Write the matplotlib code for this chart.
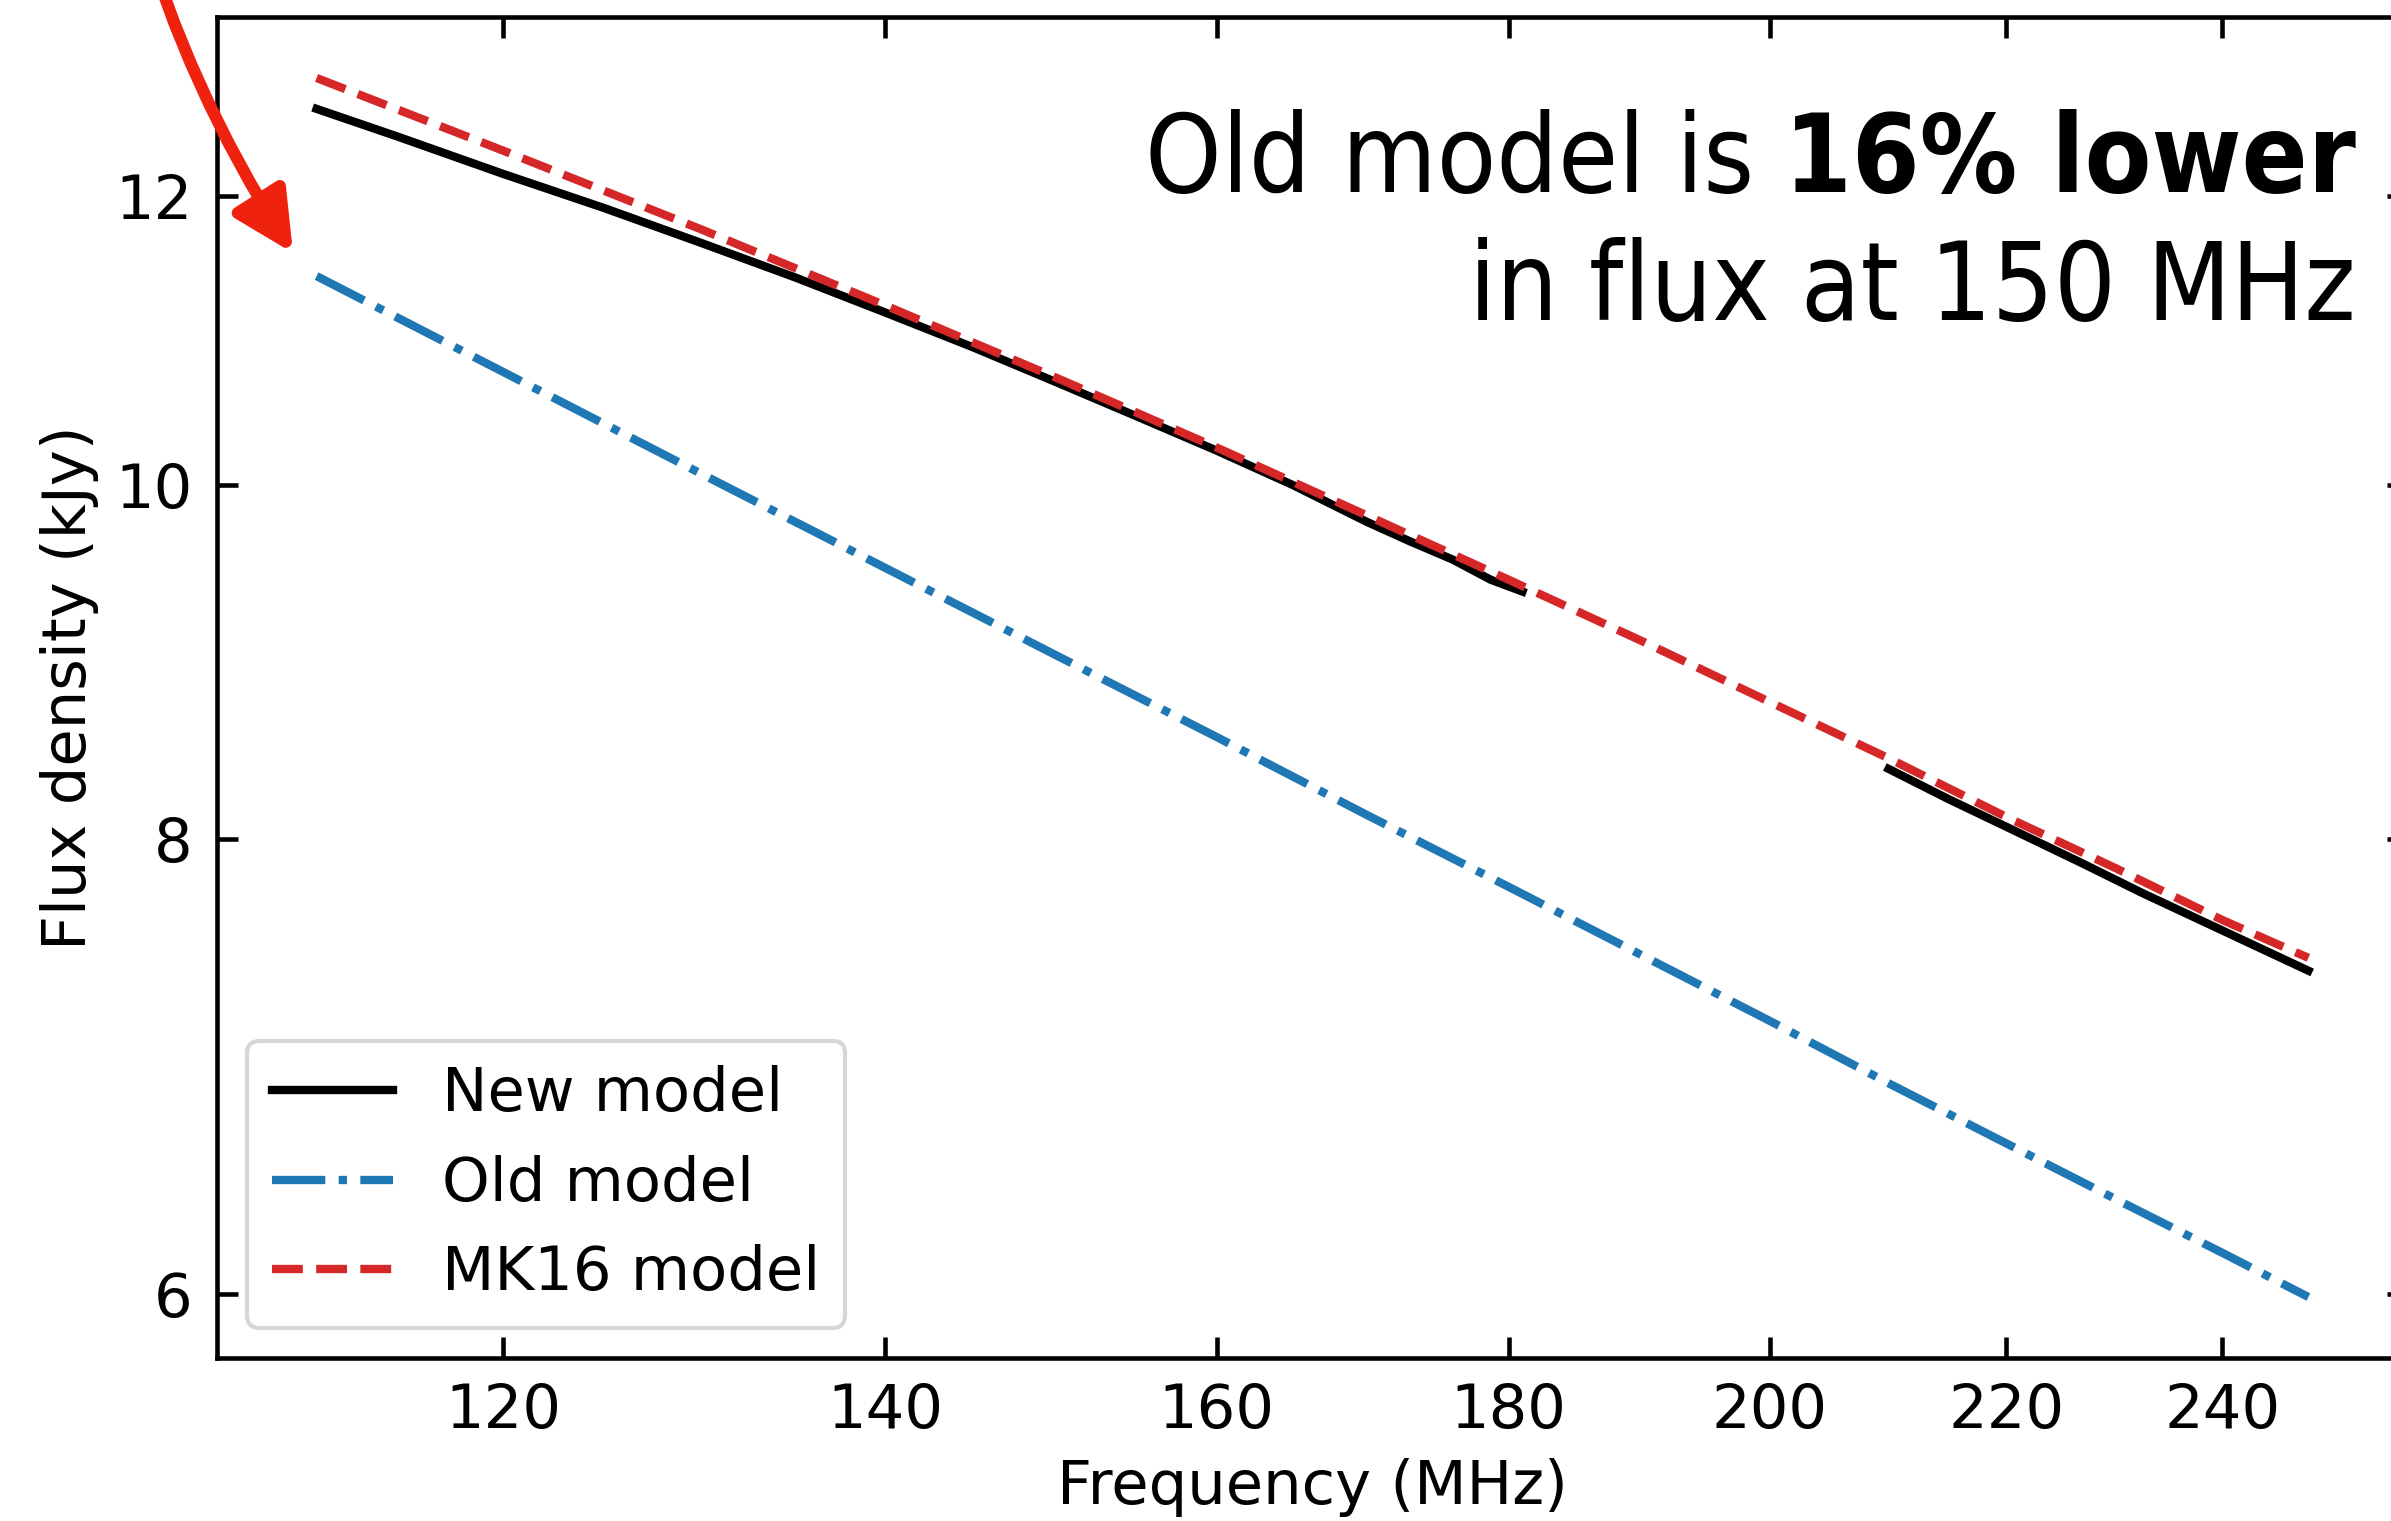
import os
import matplotlib
matplotlib.use("Agg")
import matplotlib.pyplot as plt
from matplotlib import font_manager as fm
from matplotlib.font_manager import FontProperties
from matplotlib.patches import FancyArrowPatch
from matplotlib.path import Path
from matplotlib.ticker import FixedLocator, NullLocator, FormatStrFormatter

# ---------------- data ----------------
new_freq_low = [111.3, 115, 120, 125, 130, 135, 140, 145, 150, 155, 160, 165, 170, 173, 176, 178.7, 181.0]
new_flux_low = [12.68, 12.46, 12.17, 11.91, 11.65, 11.40, 11.15, 10.91, 10.67, 10.44, 10.22, 10.00, 9.77, 9.65, 9.54, 9.42, 9.35]
new_freq_high = [209.8, 215, 220, 226.7, 232.4, 240, 248.5]
new_flux_high = [8.36, 8.20, 8.06, 7.88, 7.73, 7.55, 7.36]

old_freq = [111.3, 120, 130, 140, 150, 160, 170, 180, 190, 200, 210, 220, 230, 240, 248.5]
old_flux = [11.41, 10.74, 10.07, 9.49, 8.98, 8.53, 8.12, 7.76, 7.43, 7.13, 6.85, 6.60, 6.37, 6.16, 5.99]

mk16_freq = [111.3, 120, 130, 140, 150, 160, 170, 180, 190, 200, 210, 220, 230, 240, 248.5]
mk16_flux = [12.93, 12.35, 11.75, 11.20, 10.70, 10.24, 9.81, 9.42, 9.06, 8.72, 8.41, 8.11, 7.85, 7.60, 7.42]

x_ticks = [120, 140, 160, 180, 200, 220, 240]
y_ticks = [6, 8, 10, 12]
series_labels = ["New model", "Old model", "MK16 model"]
note_line1_regular = "Old model is"
note_line1_bold = "16% lower"
note_line2 = "in flux at 150 MHz"

# ---------------- figure ----------------
W, H, DPI = 2391, 1521, 300
fig = plt.figure(figsize=(W / DPI, H / DPI), dpi=DPI)
fig.patch.set_facecolor("white")

FS = 14.6
L, R, T, B = 217, 2408, 17, 1358
ax = fig.add_axes([L / W, 1 - B / H, (R - L) / W, (B - T) / H])
ax.set_xscale("log")
ax.set_yscale("log")

lw = 2.0
ax.plot(new_freq_low, new_flux_low, color="black", lw=lw, label=series_labels[0])
ax.plot(new_freq_high, new_flux_high, color="black", lw=lw)
ax.plot(old_freq, old_flux, color="#1f77b4", lw=lw, ls="-.", label=series_labels[1])
ax.plot(mk16_freq, mk16_flux, color="#d62728", lw=lw, ls="--", label=series_labels[2])

for axis, ticks in ((ax.xaxis, x_ticks), (ax.yaxis, y_ticks)):
    axis.set_major_locator(FixedLocator(ticks))
    axis.set_minor_locator(NullLocator())
    axis.set_major_formatter(FormatStrFormatter("%d"))

ax.tick_params(which="both", direction="in", top=True, right=True,
               length=5, width=1.1, pad=5.8, labelsize=FS)
for sp in ax.spines.values():
    sp.set_linewidth(1.1)

ax.set_xlabel("Frequency (MHz)", fontsize=FS)
ax.set_ylabel("Flux density (kJy)", fontsize=FS)
ax.legend(loc="lower left", fontsize=FS)

# ---------------- annotation text ----------------
def find_font(must, avoid=()):
    paths = [f.fname for f in fm.fontManager.ttflist]
    try:
        paths += fm.findSystemFonts()
    except Exception:
        pass
    for p in paths:
        b = os.path.basename(p)
        if all(k in b for k in must) and not any(k in b for k in avoid):
            return p
    return None

reg_path = find_font(["DejaVuSansCondensed"], ["Bold", "Oblique"])
bold_path = find_font(["DejaVuSansCondensed-Bold"], ["Oblique"])
if reg_path and bold_path:
    fp_reg = FontProperties(fname=reg_path, size=26)
    fp_bold = FontProperties(fname=bold_path, size=26)
else:
    fp_reg = FontProperties(family="DejaVu Sans", size=23.3)
    fp_bold = FontProperties(family="DejaVu Sans", weight="bold", size=23.3)

x_right = 2356 / W
t_bold = fig.text(x_right, 1 - 192 / H, note_line1_bold, fontproperties=fp_bold,
                  ha="right", va="baseline")
fig.text(x_right, 1 - 320 / H, note_line2, fontproperties=fp_reg,
         ha="right", va="baseline")
fig.canvas.draw()
bb = t_bold.get_window_extent()
fig.text((bb.x0 - 30) / W, 1 - 192 / H, note_line1_regular, fontproperties=fp_reg,
         ha="right", va="baseline")

# ---------------- red curved arrow ----------------
pts = [(140, -80), (186.8, 87), (293, 253)]
verts = [(x / W, 1 - y / H) for x, y in pts]
arrow = FancyArrowPatch(path=Path(verts, [Path.MOVETO, Path.CURVE3, Path.CURVE3]),
                        arrowstyle="-|>,head_length=12,head_width=6",
                        color="#ee220e", lw=2.9, mutation_scale=1,
                        transform=fig.transFigure)
fig.add_artist(arrow)

fig.savefig("out.png", dpi=DPI, facecolor="white")
